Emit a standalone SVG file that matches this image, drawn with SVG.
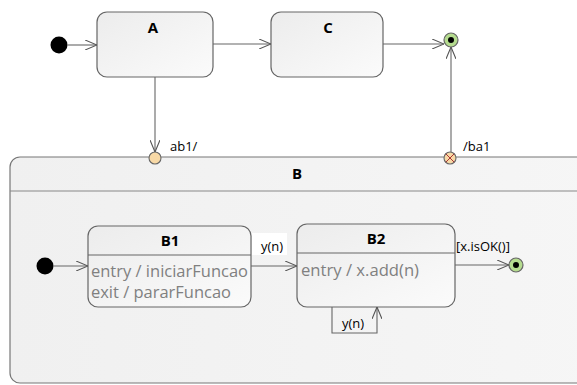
<svg xmlns="http://www.w3.org/2000/svg" width="577" height="385" viewBox="0 0 577 385">
<style>
.t{font-family:"Open Sans","Noto Sans","DejaVu Sans",sans-serif;fill:#000;}
.title{font-size:15px;font-weight:bold;text-anchor:middle;}
.lbl{font-size:13px;}
.act{font-family:"Open Sans","Noto Sans","DejaVu Sans",sans-serif;font-size:16px;fill:#808080;}
.box{fill:url(#g);stroke:#666;stroke-width:1.2;}
.cn{fill:none;stroke:#666;stroke-width:1.1;marker-end:url(#arr);}
</style>
<defs>
<linearGradient id="g" x1="0" y1="0" x2="1" y2="1">
<stop offset="0" stop-color="#ececec"/>
<stop offset="1" stop-color="#fbfbfb"/>
</linearGradient>
<linearGradient id="gb" x1="0" y1="0" x2="1" y2="0">
<stop offset="0" stop-color="#f0f0f0"/>
<stop offset="1" stop-color="#f6f6f6"/>
</linearGradient>
<marker id="arr" viewBox="0 0 12 10" refX="12" refY="5" markerWidth="12" markerHeight="10" markerUnits="userSpaceOnUse" orient="auto">
<path d="M0,0 L12,5 L0,10" fill="none" stroke="#555" stroke-width="1.1"/>
</marker>
</defs>
<rect width="577" height="385" fill="#fff"/>
<g id="B">
<rect x="10" y="157" width="600" height="226" rx="10" fill="url(#gb)" stroke="#777" stroke-width="1.2"/>
<line x1="10" y1="191" x2="577" y2="191" stroke="#888" stroke-width="1.2"/>
<text class="t title" x="297" y="179">B</text>
</g>
<g id="init1"><circle cx="59" cy="45" r="8.5" fill="#000"/></g>
<g id="A">
<rect class="box" x="97" y="12" width="116" height="65" rx="10"/>
<text class="t title" x="153" y="33">A</text>
</g>
<g id="C">
<rect class="box" x="271" y="12" width="112" height="65" rx="10"/>
<text class="t title" x="328" y="33">C</text>
</g>
<g id="final1">
<circle cx="451" cy="40" r="7" fill="#b5dc8f" stroke="#666" stroke-width="1.2"/>
<circle cx="451" cy="40" r="3" fill="#000"/>
</g>
<g id="entryPoint"><circle cx="155" cy="158" r="6" fill="#f8d9a6" stroke="#666" stroke-width="1.1"/></g>
<g id="exitPoint">
<circle cx="450" cy="158" r="6" fill="#f8d9a6" stroke="#666" stroke-width="1.1"/>
<path d="M445.8,153.8 L454.2,162.2 M454.2,153.8 L445.8,162.2" stroke="#a33" stroke-width="1"/>
</g>
<g id="init2"><circle cx="45" cy="266" r="8.5" fill="#000"/></g>
<g id="B1">
<rect class="box" x="88" y="226" width="163" height="81" rx="10"/>
<line x1="88" y1="255" x2="251" y2="255" stroke="#666" stroke-width="1.2"/>
<text class="t title" x="170" y="246">B1</text>
<text class="act" x="91" y="277" textLength="157" lengthAdjust="spacingAndGlyphs">entry / iniciarFuncao</text>
<text class="act" x="91" y="298" textLength="140" lengthAdjust="spacingAndGlyphs">exit / pararFuncao</text>
</g>
<g id="B2">
<rect class="box" x="297" y="224" width="158" height="83" rx="10"/>
<line x1="297" y1="253" x2="455" y2="253" stroke="#666" stroke-width="1.2"/>
<text class="t title" x="376" y="244">B2</text>
<text class="act" x="301" y="276" textLength="118" lengthAdjust="spacingAndGlyphs">entry / x.add(n)</text>
</g>
<g id="final2">
<circle cx="516" cy="265" r="7" fill="#b5dc8f" stroke="#666" stroke-width="1.2"/>
<circle cx="516" cy="265" r="3" fill="#000"/>
</g>
<g id="connectors">
<line class="cn" x1="67.5" y1="45" x2="97" y2="45"/>
<line class="cn" x1="213" y1="44" x2="271" y2="44"/>
<line class="cn" x1="383" y1="44" x2="444" y2="44"/>
<line class="cn" x1="155" y1="77" x2="155" y2="152"/>
<line class="cn" x1="451" y1="152" x2="451" y2="47"/>
<text class="t lbl" x="170" y="151">ab1/</text>
<text class="t lbl" x="463" y="151">/ba1</text>
<line class="cn" x1="53.5" y1="266" x2="88" y2="266"/>
<line class="cn" x1="251" y1="266" x2="297" y2="266"/>
<rect x="252" y="233" width="35" height="22" fill="#fff"/>
<text class="t lbl" x="261" y="251">y(n)</text>
<line class="cn" x1="455" y1="265" x2="509" y2="265"/>
<text class="t lbl" x="456" y="251">[x.isOK()]</text>
<polyline class="cn" points="332,307 332,333 377,333 377,307"/>
<text class="t lbl" x="342" y="328">y(n)</text>
</g>
</svg>
